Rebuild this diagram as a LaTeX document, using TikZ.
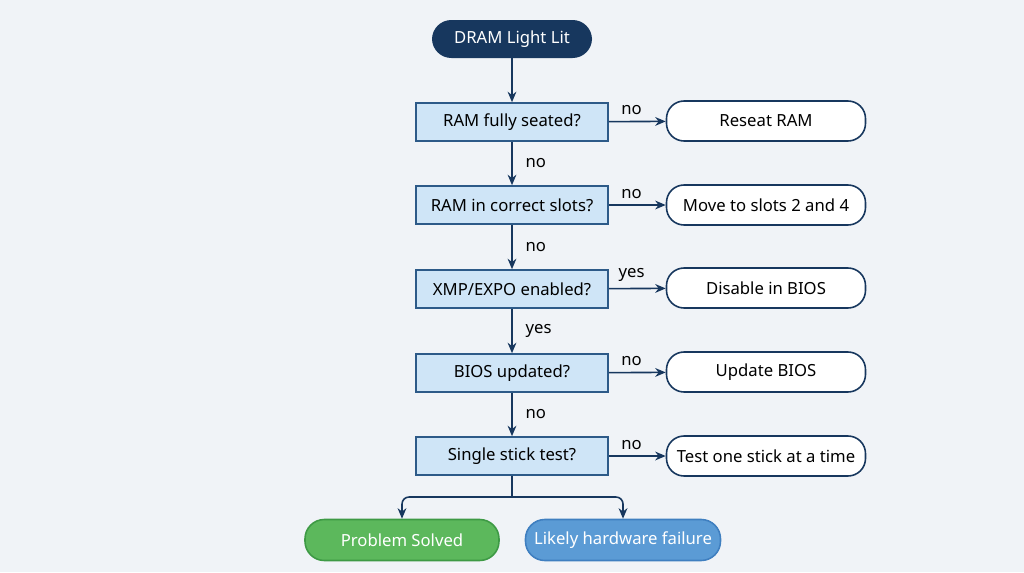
\documentclass[tikz,border=0pt]{standalone}
\usepackage{fontspec}
\setmainfont{Noto Sans}
\usetikzlibrary{arrows.meta}
\definecolor{bg}{HTML}{F0F3F7}
\definecolor{navy}{HTML}{17375E}
\definecolor{dfill}{HTML}{CFE5F7}
\definecolor{dline}{HTML}{2D5A88}
\definecolor{gfill}{HTML}{5CB85C}
\definecolor{gline}{HTML}{3E9A45}
\definecolor{bfill}{HTML}{5B9BD5}
\definecolor{bline}{HTML}{3F7FC0}
\begin{document}
\begin{tikzpicture}[x=0.02cm,y=-0.02cm,
  every node/.style={font=\fontsize{9.5}{11}\selectfont},
  dec/.style={draw=dline,fill=dfill,line width=0.9pt,minimum width=192*0.02cm,minimum height=38*0.02cm,inner sep=0pt},
  act/.style={draw=navy,fill=white,rounded corners=10pt,line width=0.9pt,minimum width=199*0.02cm,minimum height=40*0.02cm,inner sep=0pt},
  start/.style={fill=navy,text=white,rounded corners=11pt,minimum width=160*0.02cm,minimum height=38*0.02cm},
  endg/.style={draw=gline,fill=gfill,text=white,rounded corners=11pt,line width=0.9pt,minimum width=194*0.02cm,minimum height=41*0.02cm},
  endb/.style={draw=bline,fill=bfill,text=white,rounded corners=11pt,line width=0.9pt,minimum width=195*0.02cm,minimum height=41*0.02cm},
  arr/.style={draw=navy,line width=0.9pt,-{Stealth[length=6pt,width=5pt]}},
  lab/.style={text=black}]
\fill[bg] (0,0) rectangle (1024,572);
\node[start] (s) at (512,39) {DRAM Light Lit};
\node[dec] (d1) at (512,122) {RAM fully seated?};
\node[dec] (d2) at (512,205) {RAM in correct slots?};
\node[dec] (d3) at (512,289) {XMP/EXPO enabled?};
\node[dec] (d4) at (512,373) {BIOS updated?};
\node[dec] (d5) at (512,456) {Single stick test?};
\node[act] (a1) at (766,121) {Reseat RAM};
\node[act] (a2) at (766,205) {Move to slots 2 and 4};
\node[act] (a3) at (766,288) {Disable in BIOS};
\node[act] (a4) at (766,372) {Update BIOS};
\node[act] (a5) at (766,456) {Test one stick at a time};
\node[endg] (e1) at (402,540) {Problem Solved};
\node[endb] (e2) at (623,540) {Likely hardware failure};
\draw[arr] (s) -- (d1);
\draw[arr] (d1) -- node[right,lab,xshift=4pt]{no} (d2);
\draw[arr] (d2) -- node[right,lab,xshift=4pt]{no} (d3);
\draw[arr] (d3) -- node[right,lab,xshift=4pt]{yes} (d4);
\draw[arr] (d4) -- node[right,lab,xshift=4pt]{no} (d5);
\draw[arr] (d1) -- node[above,lab,pos=0.4]{no} (a1);
\draw[arr] (d2) -- node[above,lab,pos=0.4]{no} (a2);
\draw[arr] (d3) -- node[above,lab,pos=0.4]{yes} (a3);
\draw[arr] (d4) -- node[above,lab,pos=0.4]{no} (a4);
\draw[arr] (d5) -- node[above,lab,pos=0.4]{no} (a5);
\coordinate (j) at (512,497);
\draw[navy,line width=0.9pt] (d5.south) -- (j);
\draw[arr,rounded corners=4pt] (j) -- (402,497) -- (e1.north);
\draw[arr,rounded corners=4pt] (j) -- (623,497) -- (e2.north);
\end{tikzpicture}
\end{document}
